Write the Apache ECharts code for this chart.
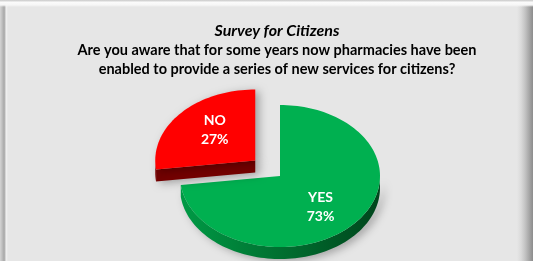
<!DOCTYPE html>
<html>
<head>
<meta charset="utf-8">
<script src="https://cdn.jsdelivr.net/npm/echarts@6/dist/echarts.min.js"></script>
<style>
html,body{margin:0;padding:0;}
#wrap{position:relative;width:533px;height:261px;overflow:hidden;
background:
 linear-gradient(to bottom,#cfcfcf 0px,#d6d6d6 1px,#fbfbfb 2px,#f6f6f6 5px,rgba(230,230,230,0) 7px),
 linear-gradient(to right,#d4d4d4 0px,#c0c0c0 2px,#a9a9a9 4px,#b8b8b8 5px,#f2f2f2 6px,#e6e6e6 8px,#e6e6e6 517px,#dadada 521px,#c4c4c4 525px,#a8a8a8 529px,#8c8c8c 533px);}
#chart{position:absolute;left:0;top:0;width:533px;height:261px;}
</style>
</head>
<body>
<div id="wrap"><div id="chart"></div></div>
<script>
const titleText = 'Survey for Citizens';
const questionText = 'Are you aware that for some years now pharmacies have been\nenabled to provide a series of new services for citizens?';
const categories = ['YES', 'NO'];
const values = [73, 27];
const explodeFrac = [0, 0.33];
const topColors = ['#00b050', '#ff0000'];
const sideLight = ['#009a45', '#860000'];
const sideDark = ['#00451c', '#5e0000'];
const cutColors = ['#006b2c', '#730000'];

const total = values.reduce((a, b) => a + b, 0);
const CX = 280, CY = 176, RX = 100, RY = 71, DEPTH = 12;
const START = 90;

function renderItem(params, api) {
  const idx = params.dataIndex;
  const v = api.value(0);
  let cum = 0;
  for (let i = 0; i < idx; i++) cum += values[i];
  const a0 = START - 360 * cum / total;
  const a1 = a0 - 360 * v / total;
  const mid = (a0 + a1) / 2;
  const rad = d => d * Math.PI / 180;
  const e = explodeFrac[idx];
  const ox = e * RX * Math.cos(rad(mid));
  const oy = -e * RY * Math.sin(rad(mid));
  const cx = CX + ox, cy = CY + oy;
  const pt = (d, dz) => [cx + RX * Math.cos(rad(d)), cy - RY * Math.sin(rad(d)) + (dz || 0)];
  const steps = Math.max(8, Math.ceil((a0 - a1) / 2));
  const arc = [];
  for (let s = 0; s <= steps; s++) arc.push(a0 - (a0 - a1) * s / steps);

  const children = [];
  const sideFill = new echarts.graphic.LinearGradient(0, 0, 1, 0, [
    { offset: 0, color: sideLight[idx] }, { offset: 1, color: sideDark[idx] }
  ]);
  const shadow = { shadowBlur: 8, shadowOffsetX: 4, shadowOffsetY: 2, shadowColor: 'rgba(0,0,0,0.3)' };

  const faces = [];
  if (Math.cos(rad(a0)) < -1e-6) faces.push(a0);
  if (Math.cos(rad(a1)) > 1e-6) faces.push(a1);
  faces.forEach(d => {
    children.push({
      type: 'polygon',
      shape: { points: [[cx, cy], pt(d), pt(d, DEPTH), [cx, cy + DEPTH]] },
      style: Object.assign({ fill: cutColors[idx] }, shadow)
    });
  });

  let run = [];
  const runs = [];
  arc.forEach(d => {
    if (Math.sin(rad(d)) <= 1e-6) run.push(d);
    else { if (run.length > 1) runs.push(run); run = []; }
  });
  if (run.length > 1) runs.push(run);
  runs.forEach(r => {
    const pts = r.map(d => pt(d)).concat(r.slice().reverse().map(d => pt(d, DEPTH)));
    children.push({ type: 'polygon', shape: { points: pts }, style: Object.assign({ fill: sideFill }, shadow) });
  });

  const topPts = [[cx, cy]].concat(arc.map(d => pt(d)));
  const topStyle = { fill: topColors[idx] };
  if (e > 0) Object.assign(topStyle, shadow);
  children.push({ type: 'polygon', shape: { points: topPts }, style: topStyle });

  const pct = Math.round(v / total * 100);
  children.push({
    type: 'text',
    x: cx + 0.54 * RX * Math.cos(rad(mid)),
    y: cy - 0.65 * RY * Math.sin(rad(mid)),
    style: {
      text: categories[idx] + '\n' + pct + '%',
      fill: '#ffffff',
      font: 'bold 14px Lato, "Open Sans", sans-serif',
      align: 'center',
      verticalAlign: 'middle',
      lineHeight: 19
    }
  });

  return { type: 'group', z2: e > 0 ? 0 : 10, children: children };
}

const chart = echarts.init(document.getElementById('chart'), null, { renderer: 'canvas' });
chart.setOption({
  backgroundColor: 'transparent',
  animation: false,
  title: [
    {
      text: titleText, left: 272, top: 18, textAlign: 'center',
      textStyle: { fontFamily: 'Lato, "Open Sans", sans-serif', fontStyle: 'italic', fontWeight: 'bold', fontSize: 16, color: '#000' }
    },
    {
      text: questionText, left: 272, top: 36, textAlign: 'center',
      textStyle: { fontFamily: 'Lato, "Open Sans", sans-serif', fontWeight: 'bold', fontSize: 14.5, lineHeight: 19, color: '#000' }
    }
  ],
  series: [{
    type: 'custom',
    coordinateSystem: 'none',
    silent: true,
    renderItem: renderItem,
    data: categories.map((c, i) => ({ name: c, value: [values[i]] }))
  }]
});
</script>
</body>
</html>
